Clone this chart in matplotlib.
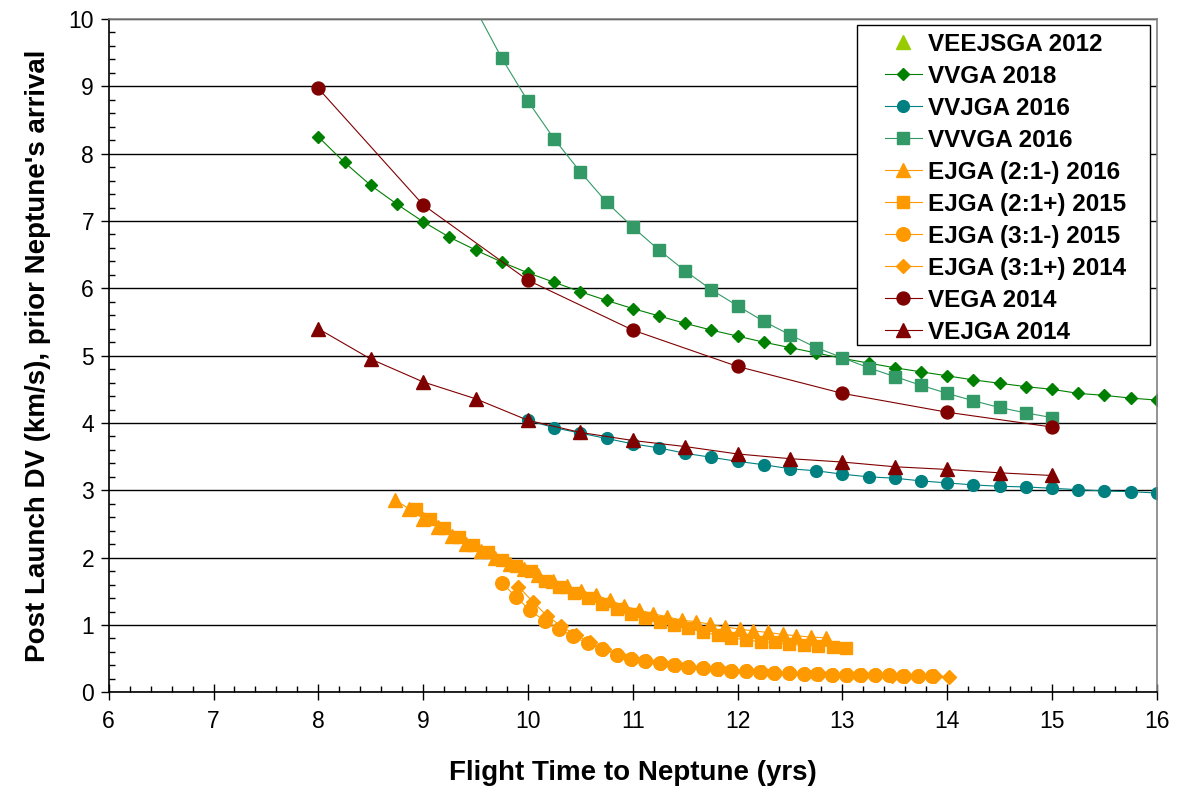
import matplotlib
matplotlib.use("Agg")
import matplotlib.pyplot as plt
from matplotlib.patches import Rectangle
from matplotlib.ticker import MultipleLocator

plt.rcParams['font.family'] = ['Liberation Sans', 'DejaVu Sans']

# ---- data: flight time to Neptune (yrs) vs post-launch DV (km/s) ----
veejsga_t = []
veejsga_dv = []

vvga_t = [8.0, 8.25, 8.5, 8.75, 9.0, 9.25, 9.5, 9.75, 10.0, 10.25, 10.5, 10.75,
          11.0, 11.25, 11.5, 11.75, 12.0, 12.25, 12.5, 12.75, 13.0, 13.25, 13.5,
          13.75, 14.0, 14.25, 14.5, 14.75, 15.0, 15.25, 15.5, 15.75, 16.0]
vvga_dv = [8.25, 7.87, 7.53, 7.25, 6.99, 6.76, 6.57, 6.39, 6.23, 6.09, 5.95, 5.82,
           5.70, 5.59, 5.48, 5.38, 5.29, 5.20, 5.12, 5.04, 4.96, 4.89, 4.82,
           4.76, 4.70, 4.64, 4.59, 4.54, 4.50, 4.44, 4.41, 4.37, 4.34]

vvjga_t = [10.0, 10.25, 10.5, 10.75, 11.0, 11.25, 11.5, 11.75, 12.0, 12.25, 12.5,
           12.75, 13.0, 13.25, 13.5, 13.75, 14.0, 14.25, 14.5, 14.75, 15.0, 15.25,
           15.5, 15.75, 16.0]
vvjga_dv = [4.04, 3.93, 3.85, 3.77, 3.69, 3.63, 3.55, 3.49, 3.43, 3.38, 3.32,
            3.29, 3.24, 3.20, 3.18, 3.14, 3.11, 3.08, 3.06, 3.05, 3.03, 3.01,
            2.99, 2.98, 2.96]

vvvga_t = [9.5, 9.75, 10.0, 10.25, 10.5, 10.75, 11.0, 11.25, 11.5, 11.75, 12.0,
           12.25, 12.5, 12.75, 13.0, 13.25, 13.5, 13.75, 14.0, 14.25, 14.5, 14.75, 15.0]
vvvga_dv = [10.15, 9.42, 8.78, 8.22, 7.73, 7.28, 6.91, 6.57, 6.26, 5.98, 5.74,
            5.51, 5.31, 5.12, 4.97, 4.82, 4.69, 4.56, 4.44, 4.33, 4.23, 4.15, 4.08]

ejga21m_t = [8.73, 8.87, 9.00, 9.14, 9.28, 9.41, 9.55, 9.69, 9.83, 9.96, 10.10,
             10.24, 10.37, 10.51, 10.65, 10.78, 10.92, 11.06, 11.19, 11.33, 11.47,
             11.60, 11.74, 11.88, 12.02, 12.15, 12.29, 12.43, 12.56, 12.70, 12.84]
ejga21m_dv = [2.86, 2.72, 2.58, 2.45, 2.32, 2.21, 2.10, 2.00, 1.91, 1.83, 1.74,
              1.66, 1.58, 1.51, 1.44, 1.37, 1.28, 1.22, 1.17, 1.12, 1.07,
              1.05, 1.01, 0.97, 0.94, 0.91, 0.89, 0.86, 0.84, 0.82, 0.81]

ejga21p_t = [8.93, 9.07, 9.20, 9.34, 9.48, 9.62, 9.75, 9.89, 10.03, 10.16, 10.30,
             10.44, 10.57, 10.71, 10.85, 10.98, 11.12, 11.26, 11.39, 11.53, 11.67,
             11.81, 11.94, 12.08, 12.22, 12.36, 12.49, 12.63, 12.77, 12.91, 13.04]
ejga21p_dv = [2.72, 2.57, 2.44, 2.31, 2.19, 2.08, 1.97, 1.88, 1.80, 1.66, 1.57,
              1.48, 1.40, 1.31, 1.24, 1.17, 1.10, 1.05, 1.00, 0.95, 0.89,
              0.85, 0.81, 0.78, 0.75, 0.74, 0.71, 0.70, 0.69, 0.68, 0.66]

ejga31m_t = [9.75, 9.89, 10.02, 10.16, 10.30, 10.43, 10.57, 10.71, 10.85, 10.98,
             11.12, 11.26, 11.39, 11.53, 11.67, 11.80, 11.94, 12.08, 12.21, 12.35,
             12.49, 12.63, 12.76, 12.90, 13.04, 13.17, 13.31, 13.45, 13.58, 13.72, 13.86]
ejga31m_dv = [1.63, 1.41, 1.22, 1.06, 0.94, 0.83, 0.73, 0.64, 0.56, 0.50,
              0.46, 0.44, 0.41, 0.38, 0.36, 0.34, 0.32, 0.31, 0.30, 0.29,
              0.28, 0.27, 0.27, 0.26, 0.26, 0.25, 0.25, 0.25, 0.24, 0.24, 0.24]

ejga31p_t = [9.91, 10.05, 10.18, 10.32, 10.46, 10.59, 10.73, 10.87, 11.00, 11.14,
             11.28, 11.42, 11.55, 11.69, 11.83, 11.96, 12.10, 12.24, 12.37, 12.51,
             12.65, 12.79, 12.92, 13.06, 13.20, 13.33, 13.47, 13.61, 13.74, 13.88, 14.02]
ejga31p_dv = [1.57, 1.34, 1.14, 0.98, 0.85, 0.74, 0.64, 0.56, 0.50, 0.46,
              0.43, 0.40, 0.38, 0.36, 0.34, 0.32, 0.31, 0.30, 0.29, 0.28,
              0.27, 0.27, 0.26, 0.26, 0.25, 0.25, 0.24, 0.24, 0.24, 0.24, 0.23]

vega_t = [8, 9, 10, 11, 12, 13, 14, 15]
vega_dv = [8.97, 7.24, 6.12, 5.38, 4.84, 4.44, 4.16, 3.94]

vejga_t = [8.0, 8.5, 9.0, 9.5, 10.0, 10.5, 11.0, 11.5, 12.0, 12.5, 13.0, 13.5,
           14.0, 14.5, 15.0]
vejga_dv = [5.40, 4.95, 4.61, 4.36, 4.04, 3.86, 3.74, 3.65, 3.54, 3.47, 3.42,
            3.35, 3.31, 3.26, 3.22]

# ---- figure ----
W, H = 1179, 791
fig = plt.figure(figsize=(W / 100, H / 100), dpi=100)
L, R, T, B = 108.7, 1156.7, 19.0, 692.3
ax = fig.add_axes([L / W, 1 - B / H, (R - L) / W, (B - T) / H])

GREEN = '#008000'
TEAL = '#008080'
SEA = '#339966'
ORANGE = '#FF9900'
DRED = '#800000'
LIME = '#99CC00'

lw = 0.8
ax.plot(veejsga_t, veejsga_dv, ls='none', marker='^', ms=10, color=LIME,
        label='VEEJSGA 2012')
ax.plot(vvga_t, vvga_dv, '-', marker='D', ms=6.2, lw=lw, color=GREEN,
        label='VVGA 2018')
ax.plot(vvjga_t, vvjga_dv, '-', marker='o', ms=8.5, lw=lw, color=TEAL,
        label='VVJGA 2016')
ax.plot(vvvga_t, vvvga_dv, '-', marker='s', ms=8.3, lw=lw, color=SEA,
        label='VVVGA 2016')
ax.plot(ejga21m_t, ejga21m_dv, '-', marker='^', ms=10, lw=lw, color=ORANGE,
        label='EJGA (2:1-) 2016')
ax.plot(ejga21p_t, ejga21p_dv, '-', marker='s', ms=9.3, lw=lw, color=ORANGE,
        label='EJGA (2:1+) 2015')
ax.plot(ejga31m_t, ejga31m_dv, '-', marker='o', ms=9.8, lw=lw, color=ORANGE,
        label='EJGA (3:1-) 2015')
ax.plot(ejga31p_t, ejga31p_dv, '-', marker='D', ms=7.2, lw=lw, color=ORANGE,
        label='EJGA (3:1+) 2014')
ax.plot(vega_t, vega_dv, '-', marker='o', ms=9.3, lw=lw, color=DRED,
        label='VEGA 2014')
ax.plot(vejga_t, vejga_dv, '-', marker='^', ms=9.5, lw=lw, color=DRED,
        label='VEJGA 2014')

ax.set_xlim(6, 16)
ax.set_ylim(0, 10)
ax.xaxis.set_major_locator(MultipleLocator(1))
ax.xaxis.set_minor_locator(MultipleLocator(0.2))
ax.yaxis.set_major_locator(MultipleLocator(1))
ax.yaxis.set_minor_locator(MultipleLocator(0.2))

ax.grid(True, which='major', axis='y', color='black', lw=1.0)
ax.set_axisbelow(True)

ax.tick_params(axis='x', which='major', direction='inout', length=11, width=1,
               labelsize=16.5, pad=7)
ax.tick_params(axis='x', which='minor', direction='in', length=4.5, width=1)
ax.tick_params(axis='y', which='major', direction='out', length=5.5, width=1,
               labelsize=16.5, pad=5)
ax.tick_params(axis='y', which='minor', direction='in', length=4.5, width=1)

for side in ('left', 'bottom'):
    ax.spines[side].set_color('black')
    ax.spines[side].set_linewidth(1.2)
for side in ('right', 'top'):
    ax.spines[side].set_color('#808080')
    ax.spines[side].set_linewidth(1.2)

ax.set_xlabel('Flight Time to Neptune (yrs)', fontsize=20, fontweight='bold',
              labelpad=20)
ax.set_ylabel("Post Launch DV (km/s), prior Neptune's arrival", fontsize=20,
              fontweight='bold', labelpad=13)

# legend box drawn as its own patch, entries placed inside it
box = Rectangle((0.714, 0.5158), 0.9936 - 0.714, 0.991 - 0.5158,
                transform=ax.transAxes, facecolor='white', edgecolor='black',
                lw=1.0, zorder=5)
ax.add_patch(box)
leg = ax.legend(loc='upper left', bbox_to_anchor=(0.7407, 0.9796),
                borderaxespad=0, frameon=False,
                prop={'weight': 'bold', 'size': 17.5},
                handlelength=1.52, handletextpad=0.25, labelspacing=0.37,
                borderpad=0)
leg.set_zorder(6)

fig.savefig('out.png', dpi=100)
